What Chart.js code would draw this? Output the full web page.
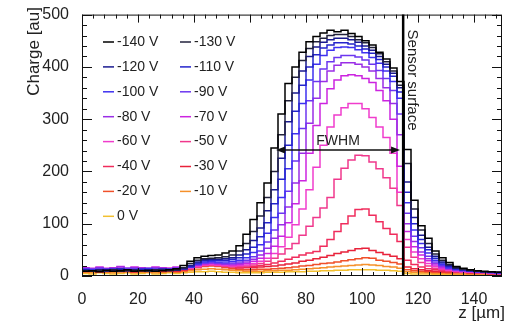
<!DOCTYPE html>
<html>
<head>
<meta charset="utf-8">
<script src="https://cdn.jsdelivr.net/npm/chart.js@4"></script>
<style>
  body { margin: 0; background: #fff; }
  canvas { display: block; }
</style>
</head>
<body>
<canvas id="chargeChart" width="511" height="322"></canvas>
<script>
// lower bin edges in z [um], bin width 2.5
const zEdges = [0, 2.5, 5, 7.5, 10, 12.5, 15, 17.5, 20, 22.5, 25, 27.5, 30, 32.5, 35, 37.5, 40, 42.5, 45, 47.5,
  50, 52.5, 55, 57.5, 60, 62.5, 65, 67.5, 70, 72.5, 75, 77.5, 80, 82.5, 85, 87.5, 90, 92.5, 95, 97.5,
  100, 102.5, 105, 107.5, 110, 112.5, 115, 117.5, 120, 122.5, 125, 127.5, 130, 132.5, 135, 137.5, 140, 142.5, 145, 147.5];
const zMax = 150;
const xTickValues = [0, 20, 40, 60, 80, 100, 120, 140];
const yTickValues = [0, 100, 200, 300, 400, 500];

const voltLabels = ['-140 V', '-130 V', '-120 V', '-110 V', '-100 V', '-90 V', '-80 V',
  '-70 V', '-60 V', '-50 V', '-40 V', '-30 V', '-20 V', '-10 V', '0 V'];

const lineColors = ['#000000', '#22223c', '#1a1a90', '#2424cc', '#3e30f0', '#6c36f0', '#9a2ee6',
  '#cc24e0', '#f03ccc', '#f0388c', '#f02c5c', '#e8223a', '#f0502a', '#f5902a', '#f2c030'];

const v140 = [9, 10, 8, 11, 9, 10, 12, 9, 10, 11,
  9, 10, 12, 14, 20, 28, 35, 38, 39, 40,
  44, 48, 58, 80, 108, 140, 178, 245, 310, 368,
  400, 428, 448, 458, 465, 470, 467, 470, 464, 458,
  450, 442, 428, 415, 398, 372, 242, 145, 96, 72,
  48, 35, 26, 18, 15, 12, 10, 9, 8, 7];
const v130 = [10, 9, 11, 10, 12, 9, 10, 11, 10, 9,
  12, 11, 10, 12, 16, 24, 30, 33, 34, 35,
  37, 40, 48, 62, 85, 115, 150, 200, 270, 335,
  380, 412, 435, 448, 455, 460, 462, 462, 458, 452,
  446, 437, 425, 410, 392, 365, 215, 128, 88, 62,
  42, 30, 22, 16, 13, 11, 9, 8, 8, 7];
const v120 = [11, 10, 12, 9, 11, 13, 10, 12, 11, 10,
  11, 13, 12, 11, 14, 20, 27, 31, 32, 32,
  33, 35, 40, 50, 68, 92, 125, 165, 225, 295,
  350, 392, 420, 438, 447, 452, 455, 455, 452, 447,
  440, 432, 420, 405, 388, 360, 180, 112, 78, 55,
  38, 27, 20, 15, 12, 10, 9, 8, 7, 7];
const v110 = [12, 11, 10, 12, 13, 11, 12, 10, 13, 12,
  11, 12, 13, 12, 14, 18, 25, 29, 30, 30,
  30, 32, 35, 42, 55, 75, 102, 138, 185, 250,
  315, 365, 400, 423, 436, 442, 446, 446, 444, 440,
  434, 426, 414, 400, 382, 352, 160, 100, 70, 50,
  34, 25, 18, 14, 12, 10, 9, 8, 7, 6];
const v100 = [13, 12, 11, 13, 12, 14, 12, 11, 13, 14,
  12, 13, 12, 13, 14, 17, 23, 27, 28, 27,
  27, 28, 30, 35, 45, 60, 82, 112, 150, 205,
  272, 330, 375, 405, 422, 432, 437, 438, 437, 433,
  427, 418, 407, 392, 372, 340, 140, 88, 62, 44,
  30, 22, 16, 13, 11, 9, 8, 7, 7, 6];
const v90 = [14, 13, 15, 12, 14, 13, 15, 14, 13, 15,
  14, 13, 14, 15, 15, 17, 22, 25, 26, 25,
  24, 25, 27, 30, 37, 48, 65, 88, 120, 162,
  220, 282, 335, 372, 396, 410, 418, 422, 422, 419,
  413, 405, 393, 378, 355, 310, 120, 76, 54, 38,
  27, 20, 15, 12, 10, 9, 8, 7, 6, 6];
const v80 = [15, 14, 16, 14, 15, 17, 14, 16, 15, 14,
  16, 15, 14, 16, 15, 17, 21, 24, 25, 24,
  23, 23, 24, 27, 32, 40, 53, 72, 98, 132,
  178, 235, 292, 340, 372, 392, 403, 408, 408, 405,
  400, 392, 378, 360, 330, 270, 100, 66, 46, 33,
  24, 18, 14, 11, 10, 9, 8, 7, 6, 6];
const v70 = [16, 15, 17, 15, 16, 18, 15, 17, 16, 15,
  17, 16, 15, 17, 16, 17, 20, 23, 24, 23,
  22, 21, 22, 24, 28, 34, 43, 57, 76, 102,
  138, 182, 235, 288, 330, 358, 375, 383, 385, 383,
  378, 370, 355, 335, 300, 210, 85, 56, 40, 29,
  21, 16, 13, 10, 9, 8, 7, 7, 6, 5];
const v60 = [14, 13, 15, 14, 13, 15, 14, 13, 15, 14,
  13, 14, 15, 13, 14, 15, 18, 21, 22, 21,
  20, 19, 20, 21, 24, 28, 34, 43, 56, 74,
  98, 128, 165, 208, 250, 285, 308, 322, 330, 330,
  320, 303, 285, 265, 235, 160, 70, 46, 33, 24,
  18, 14, 11, 9, 8, 7, 7, 6, 6, 5];
const v50 = [12, 11, 13, 12, 11, 13, 12, 11, 12, 13,
  11, 12, 13, 12, 13, 14, 17, 20, 21, 20,
  19, 18, 18, 19, 21, 24, 28, 34, 42, 52,
  62, 78, 95, 112, 130, 150, 185, 206, 222, 231,
  230, 218, 205, 188, 168, 135, 55, 36, 26, 19,
  15, 12, 10, 8, 7, 7, 6, 6, 5, 5];
const v40 = [10, 11, 9, 10, 12, 10, 9, 11, 10, 12,
  10, 11, 10, 11, 12, 14, 17, 20, 21, 20,
  18, 17, 16, 17, 18, 20, 22, 25, 28, 32,
  36, 40, 44, 47, 57, 70, 85, 100, 115, 127,
  128, 116, 104, 91, 80, 66, 30, 22, 17, 14,
  12, 10, 9, 8, 7, 7, 6, 6, 5, 5];
const v30 = [9, 10, 8, 9, 11, 9, 10, 8, 10, 9,
  11, 9, 10, 9, 11, 15, 19, 22, 23, 22,
  20, 18, 16, 16, 16, 17, 18, 19, 21, 23,
  25, 28, 30, 33, 36, 39, 43, 46, 49, 52,
  53, 49, 45, 41, 38, 33, 17, 14, 12, 10,
  9, 8, 8, 7, 7, 6, 6, 6, 5, 5];
const v20 = [8, 9, 7, 8, 10, 8, 9, 7, 9, 8,
  10, 8, 9, 8, 10, 13, 16, 18, 19, 18,
  16, 14, 13, 12, 12, 13, 13, 14, 15, 16,
  17, 19, 20, 22, 24, 25, 27, 29, 31, 33,
  35, 34, 30, 28, 26, 23, 12, 10, 9, 8,
  7, 7, 6, 6, 6, 5, 5, 5, 4, 4];
const v10 = [7, 6, 8, 7, 6, 8, 7, 6, 7, 8,
  6, 7, 8, 7, 8, 10, 12, 13, 14, 13,
  12, 11, 10, 9, 9, 9, 10, 10, 11, 11,
  12, 13, 14, 15, 16, 17, 18, 19, 20, 21,
  22, 21, 20, 18, 17, 15, 8, 7, 6, 6,
  5, 5, 5, 4, 4, 4, 4, 4, 3, 3];
const v0 = [5, 4, 6, 5, 4, 5, 6, 4, 5, 6,
  4, 5, 6, 5, 6, 7, 8, 8, 9, 8,
  7, 7, 6, 6, 6, 6, 7, 7, 7, 8,
  8, 8, 9, 9, 10, 10, 11, 11, 12, 12,
  12, 12, 11, 11, 10, 9, 5, 4, 4, 4,
  3, 3, 3, 3, 3, 3, 3, 3, 3, 3];

const seriesValues = [v140, v130, v120, v110, v100, v90, v80, v70, v60, v50, v40, v30, v20, v10, v0];

const sensorZ = 114.7;
const fwhmLevel = 241;
const fwhmFrom = 69.3;
const fwhmTo = 113.6;

const FONT = "'Liberation Sans', Arial, Helvetica, sans-serif";

// histogram points on the lower bin edges, closed at zMax
function toSteps(vals) {
  const pts = zEdges.map((z, i) => ({ x: z, y: vals[i] }));
  pts.push({ x: zMax, y: vals[vals.length - 1] });
  return pts;
}

const datasets = seriesValues.map((vals, i) => ({
  label: voltLabels[i],
  data: toSteps(vals),
  borderColor: lineColors[i],
  backgroundColor: lineColors[i],
  borderWidth: 1.5,
  stepped: 'before',
  pointRadius: 0,
  fill: false
}));

const decorations = {
  id: 'decorations',
  afterDatasetsDraw(chart) {
    const { ctx, chartArea: a, scales: { x, y } } = chart;
    ctx.save();

    // frame
    ctx.strokeStyle = '#111';
    ctx.lineWidth = 1;
    ctx.strokeRect(a.left + 0.5, a.top + 0.5, a.width - 1, a.height - 1);

    // inward ticks on all four sides
    ctx.beginPath();
    for (let v = 0; v <= zMax; v += 4) {
      const px = Math.round(x.getPixelForValue(v)) + 0.5;
      const len = v % 20 === 0 ? 8 : 4;
      ctx.moveTo(px, a.bottom); ctx.lineTo(px, a.bottom - len);
      ctx.moveTo(px, a.top); ctx.lineTo(px, a.top + len);
    }
    for (let v = 0; v <= 500; v += 20) {
      const py = Math.round(y.getPixelForValue(v)) + 0.5;
      const len = v % 100 === 0 ? 10 : 5;
      ctx.moveTo(a.left, py); ctx.lineTo(a.left + len, py);
      ctx.moveTo(a.right, py); ctx.lineTo(a.right - len, py);
    }
    ctx.stroke();

    // sensor surface
    const xs = x.getPixelForValue(sensorZ);
    ctx.lineWidth = 2.5;
    ctx.strokeStyle = '#000';
    ctx.beginPath();
    ctx.moveTo(xs, a.top);
    ctx.lineTo(xs, a.bottom);
    ctx.stroke();

    ctx.fillStyle = '#222';
    ctx.font = '15px ' + FONT;
    ctx.save();
    ctx.translate(xs + 5, a.top + 15);
    ctx.rotate(Math.PI / 2);
    ctx.textAlign = 'left';
    ctx.textBaseline = 'alphabetic';
    ctx.fillText('Sensor surface', 0, 0);
    ctx.restore();

    // FWHM arrow
    const x1 = x.getPixelForValue(fwhmFrom);
    const x2 = x.getPixelForValue(fwhmTo);
    const ya = y.getPixelForValue(fwhmLevel);
    ctx.lineWidth = 1.5;
    ctx.strokeStyle = '#111';
    ctx.beginPath();
    ctx.moveTo(x1 + 4, ya);
    ctx.lineTo(x2 - 4, ya);
    ctx.stroke();
    ctx.fillStyle = '#111';
    ctx.beginPath();
    ctx.moveTo(x1, ya); ctx.lineTo(x1 + 9, ya - 3.5); ctx.lineTo(x1 + 9, ya + 3.5); ctx.closePath();
    ctx.moveTo(x2, ya); ctx.lineTo(x2 - 9, ya - 3.5); ctx.lineTo(x2 - 9, ya + 3.5); ctx.closePath();
    ctx.fill();
    ctx.fillStyle = '#222';
    ctx.font = '14px ' + FONT;
    ctx.textAlign = 'center';
    ctx.textBaseline = 'alphabetic';
    ctx.fillText('FWHM', (x1 + x2) / 2, ya - 5);

    // legend, two columns
    ctx.font = '14px ' + FONT;
    ctx.textAlign = 'left';
    ctx.textBaseline = 'middle';
    const colX = [103, 180];
    chart.data.datasets.forEach((ds, i) => {
      const cx = colX[i % 2];
      const cy = 42 + Math.floor(i / 2) * 24.9;
      ctx.strokeStyle = ds.borderColor;
      ctx.lineWidth = 1.5;
      ctx.beginPath();
      ctx.moveTo(cx, cy);
      ctx.lineTo(cx + 11, cy);
      ctx.stroke();
      ctx.fillStyle = '#222';
      ctx.fillText(ds.label, cx + 14, cy);
    });

    // axis titles
    ctx.font = '17px ' + FONT;
    ctx.save();
    ctx.translate(39, 7);
    ctx.rotate(-Math.PI / 2);
    ctx.textAlign = 'right';
    ctx.textBaseline = 'alphabetic';
    ctx.fillText('Charge [au]', 0, 0);
    ctx.restore();
    ctx.textAlign = 'right';
    ctx.textBaseline = 'alphabetic';
    ctx.fillText('z [\u00b5m]', 505, 318);

    ctx.restore();
  }
};

const ctx = document.getElementById('chargeChart').getContext('2d');
const chargeChart = new Chart(ctx, {
  type: 'line',
  data: { datasets: datasets },
  options: {
    responsive: false,
    animation: false,
    layout: { padding: { top: 11, right: 9, left: 0, bottom: 0 } },
    scales: {
      x: {
        type: 'linear',
        min: 0,
        max: zMax,
        grid: { display: false },
        border: { display: false },
        afterBuildTicks: (scale) => {
          scale.ticks = xTickValues.map(v => ({ value: v }));
        },
        afterFit: (scale) => { scale.height = 46; },
        ticks: {
          maxRotation: 0,
          autoSkip: false,
          padding: 6,
          color: '#222',
          font: { family: FONT, size: 16 }
        }
      },
      y: {
        min: 0,
        max: 500,
        grid: { display: false },
        border: { display: false },
        afterBuildTicks: (scale) => {
          scale.ticks = yTickValues.map(v => ({ value: v }));
        },
        afterFit: (scale) => { scale.width = 82; },
        ticks: {
          padding: 5,
          color: '#222',
          font: { family: FONT, size: 16 }
        }
      }
    },
    plugins: {
      legend: { display: false },
      tooltip: { enabled: false }
    }
  },
  plugins: [decorations]
});
</script>
</body>
</html>
